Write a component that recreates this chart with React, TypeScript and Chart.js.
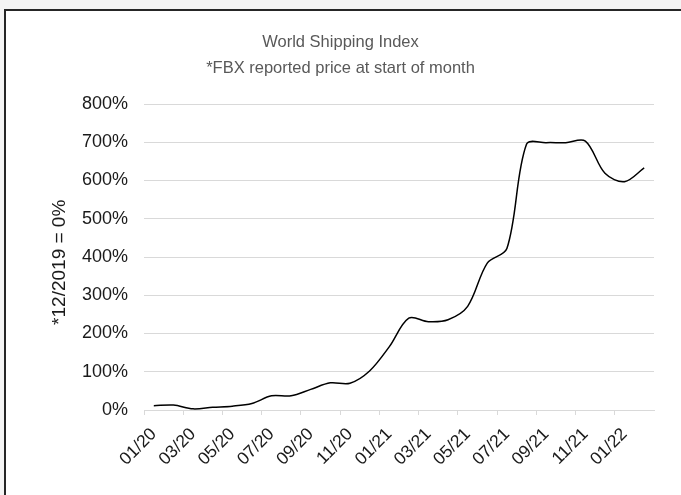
import React, { useEffect, useRef } from "react";
import { Chart, registerables } from "chart.js";

Chart.register(...registerables);

const months = [
  "01/20", "02/20", "03/20", "04/20", "05/20", "06/20", "07/20", "08/20", "09/20", "10/20", "11/20", "12/20",
  "01/21", "02/21", "03/21", "04/21", "05/21", "06/21", "07/21", "08/21", "09/21", "10/21", "11/21", "12/21",
  "01/22", "02/22",
];

const indexValues = [
  11, 13, 3, 7, 10, 17, 37, 37, 54, 71, 70, 102,
  165, 240, 231, 236, 271, 384, 422, 695, 699, 699, 703, 619,
  597, 633,
];

const titleLines = ["World Shipping Index", "*FBX reported price at start of month"];
const yAxisTitle = "*12/2019 = 0%";
const yMin = 0;
const yMax = 800;
const yStep = 100;

const FONT = "'Liberation Sans', Arial, sans-serif";

export default function App() {
  const ref = useRef<HTMLCanvasElement>(null);

  useEffect(() => {
    document.body.style.margin = "0";
    document.body.style.background = "#f4f4f4";
    const canvas = ref.current;
    if (!canvas) return;
    const chart = new Chart(canvas, {
      type: "line",
      data: {
        labels: months,
        datasets: [
          {
            data: indexValues,
            borderColor: "#000000",
            borderWidth: 1.5,
            pointRadius: 0,
            tension: 0.33,
            fill: false,
            yAxisID: "y",
          },
        ],
      },
      options: {
        animation: false,
        responsive: false,
        maintainAspectRatio: false,
        layout: { padding: { left: 0, right: 0, top: 0, bottom: 0 } },
        plugins: {
          legend: { display: false },
          tooltip: { enabled: false },
          title: {
            display: true,
            text: titleLines,
            color: "#595959",
            font: { family: FONT, size: 16.5, weight: "normal", lineHeight: 1.576 },
            padding: { top: 29, bottom: 23 },
          },
        },
        scales: {
          x: {
            offset: true,
            grid: {
              offset: true,
              drawOnChartArea: false,
              drawTicks: true,
              tickLength: 5,
              color: (ctx: any) => (ctx.index % 2 === 0 ? "#d9d9d9" : "rgba(0,0,0,0)"),
            },
            border: { display: true, color: "#d9d9d9" },
            ticks: {
              autoSkip: false,
              maxRotation: 45,
              minRotation: 45,
              padding: 9,
              color: "#1a1a1a",
              font: { family: FONT, size: 17.5 },
              callback: (_v: any, i: number) => (i % 2 === 0 ? months[i] : ""),
            },
            afterFit: (s: any) => {
              s.height = 85;
            },
          },
          y: {
            min: yMin,
            max: yMax,
            ticks: {
              stepSize: yStep,
              padding: 16,
              color: "#1a1a1a",
              font: { family: FONT, size: 18 },
              callback: (v: any) => v + "%",
            },
            grid: { color: "#d9d9d9", drawTicks: false },
            border: { display: false },
            title: {
              display: true,
              text: yAxisTitle + "  ",
              color: "#1a1a1a",
              font: { family: FONT, size: 19 },
              padding: { top: 48, bottom: 0 },
            },
            afterFit: (s: any) => {
              s.width = 144;
            },
          },
          y2: {
            position: "right",
            display: true,
            min: yMin,
            max: yMax,
            grid: { display: false, drawOnChartArea: false, drawTicks: false },
            border: { display: false },
            ticks: { display: false },
            afterFit: (s: any) => {
              s.width = 27;
            },
          },
        },
      },
    });
    return () => chart.destroy();
  }, []);

  return (
    <div style={{ position: "relative", width: 681, height: 495, overflow: "hidden" }}>
      <div
        style={{
          position: "absolute",
          left: 4,
          top: 9,
          width: 720,
          height: 520,
          background: "#ffffff",
          borderLeft: "2px solid #262626",
          borderTop: "2px solid #262626",
        }}
      />
      <canvas
        ref={ref}
        width={681}
        height={495}
        style={{ position: "absolute", left: 0, top: 0, width: 681, height: 495 }}
      />
    </div>
  );
}
